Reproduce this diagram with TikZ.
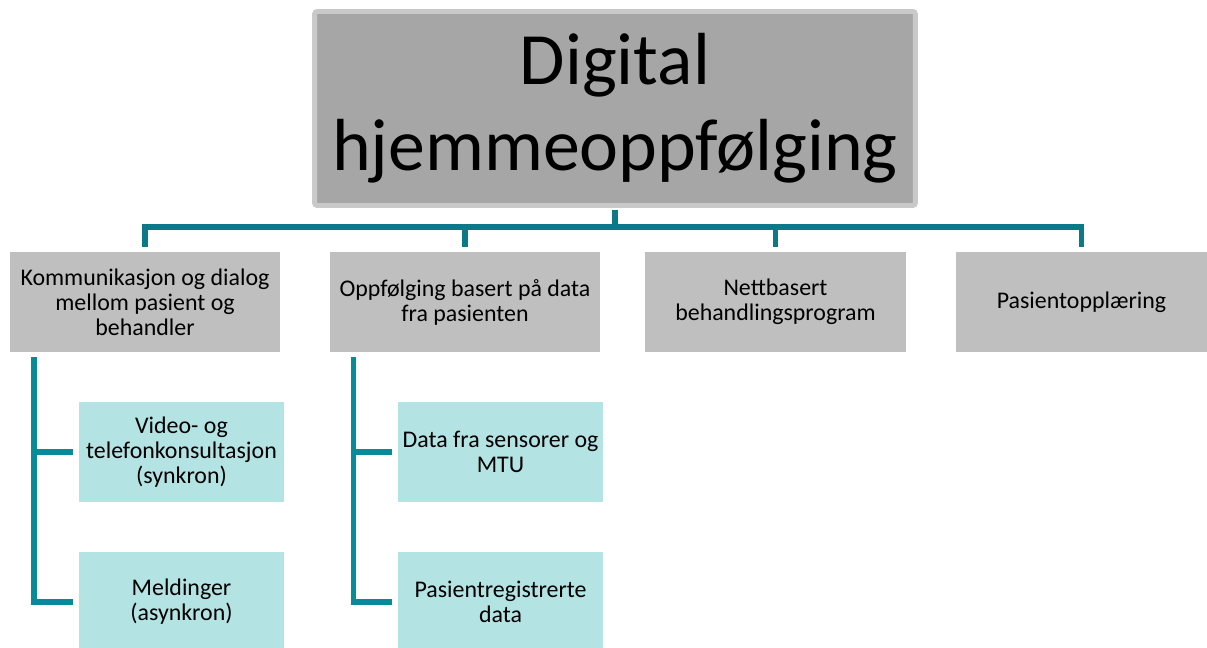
\documentclass[tikz,border=0pt]{standalone}
\usepackage{fontspec}
\setmainfont{Carlito}
\usepackage{tikz}
\usetikzlibrary{calc}
\definecolor{rootfill}{HTML}{A6A6A6}
\definecolor{rootline}{HTML}{C9C9C9}
\definecolor{midfill}{HTML}{BFBFBF}
\definecolor{leaffill}{HTML}{B4E3E3}
\definecolor{bus}{HTML}{0A7A86}
\definecolor{twig}{HTML}{078B99}
\tikzset{
  rootbox/.style={draw=rootline, fill=rootfill, line width=2.8pt, rounded corners=1.5pt,
    minimum width=12.02cm, minimum height=3.88cm, inner sep=0pt, align=center,
    font=\fontsize{42}{49}\selectfont},
  midbox/.style={fill=midfill, minimum height=2cm, inner sep=0pt, align=center,
    font=\fontsize{13.6}{14.2}\selectfont},
  leafbox/.style={fill=leaffill, minimum width=4.1cm, minimum height=2cm, inner sep=0pt,
    align=center, font=\fontsize{13.6}{14.2}\selectfont},
  link/.style={draw=bus, line width=3.1pt},
  sublink/.style={draw=twig, line width=3.1pt}
}
\begin{document}
\begin{tikzpicture}[x=0.02cm, y=-0.02cm]
  \useasboundingbox (0,0) rectangle (1207,647);

  \node[rootbox] (root) at (615,108.5) {Digital\\hjemmeoppfølging};

  % second level
  \node[midbox, minimum width=5.4cm] (komm) at (145,302)
    {Kommunikasjon og dialog\\mellom pasient og\\behandler};
  \node[midbox, minimum width=5.4cm] (oppf) at (465,302)
    {Oppfølging basert på data\\fra pasienten};
  \node[midbox, minimum width=5.22cm] (nett) at (775.5,302)
    {Nettbasert\\behandlingsprogram};
  \node[midbox, minimum width=5.02cm] (opp) at (1081.5,302) {Pasientopplæring};

  % leaves
  \node[leafbox] (video) at (181.5,452) {Video- og\\telefonkonsultasjon\\(synkron)};
  \node[leafbox] (meld) at (181.5,602) {Meldinger\\(asynkron)};
  \node[leafbox] (sens) at (500.5,452) {Data fra sensorer og\\MTU};
  \node[leafbox] (preg) at (500.5,602) {Pasientregistrerte\\data};

  % connectors from the root
  \coordinate (bus) at (615,227);
  \foreach \n in {komm,oppf,nett,opp}
    \draw[link, shorten <=1.4pt, shorten >=2.8pt] (root.south) -- (root.south |- bus) -| (\n.north);

  % connectors to the leaves
  \coordinate (kommtrunk) at ($(komm.south west)+(24.5,5)$);
  \coordinate (oppftrunk) at ($(oppf.south west)+(24,5)$);
  \draw[sublink, shorten >=3.4pt] (kommtrunk) |- (video.west);
  \draw[sublink, shorten >=3.4pt] (kommtrunk) |- (meld.west);
  \draw[sublink, shorten >=3.4pt] (oppftrunk) |- (sens.west);
  \draw[sublink, shorten >=3.4pt] (oppftrunk) |- (preg.west);
\end{tikzpicture}
\end{document}
